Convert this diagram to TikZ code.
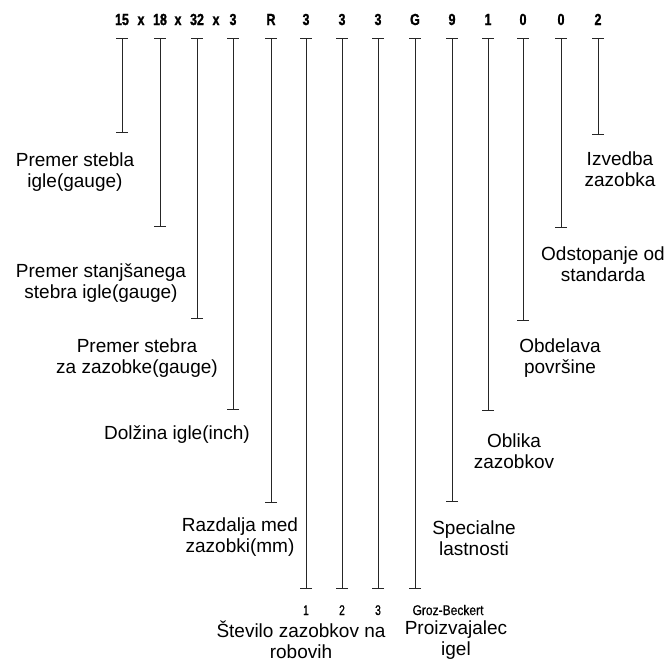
\documentclass[tikz,border=0pt]{standalone}
\usepackage{fontspec}
\setmainfont{Liberation Sans}
\newfontfamily\codefontb[FakeStretch=0.78,FakeBold=1.2]{Liberation Sans Bold}
\newfontfamily\codefontr[FakeStretch=0.74,FakeBold=0.8]{Liberation Sans}
\newfontfamily\codefontw[FakeStretch=0.86,FakeBold=0.5]{Liberation Sans}
\usetikzlibrary{arrows.meta}
\begin{document}
\begin{tikzpicture}[x=1pt,y=-1pt,
  code/.style={font=\codefontb\fontsize{16}{18}\selectfont, inner sep=0pt, anchor=base},
  small/.style={font=\codefontr\fontsize{14}{16}\selectfont, inner sep=0pt, anchor=base},
  lbl/.style={font=\fontsize{19}{21.5}\selectfont, align=center, inner sep=0pt},
  lead/.style={line width=0.8pt, draw=black!85, {Bar[width=12pt,line width=0.8pt]}-{Bar[width=12pt,line width=0.8pt]}}]
\useasboundingbox (0,0) rectangle (667,662);

% code characters
\node[code] (c1) at (122,25) {15};
\node[code] (xa) at (141,25) {x};
\node[code] (c2) at (160,25) {18};
\node[code] (xb) at (178,25) {x};
\node[code] (c3) at (197,25) {32};
\node[code] (xc) at (216,25) {x};
\node[code] (c4) at (233,25) {3};
\node[code] (c5) at (271,25) {R};
\node[code] (c6) at (306,25) {3};
\node[code] (c7) at (342,25) {3};
\node[code] (c8) at (378,25) {3};
\node[code] (c9) at (415,25) {G};
\node[code] (c10) at (452,25) {9};
\node[code] (c11) at (488,25) {1};
\node[code] (c12) at (523,25) {0};
\node[code] (c13) at (561,25) {0};
\node[code] (c14) at (598,25) {2};

% top ends of the leaders
\foreach \i in {1,...,14} {\coordinate (t\i) at ([yshift=-13pt]c\i.base);}
% bottom ends
\coordinate (b1) at (c1 |- 0,133);
\coordinate (b2) at (c2 |- 0,227);
\coordinate (b3) at (c3 |- 0,319);
\coordinate (b4) at (c4 |- 0,410);
\coordinate (b5) at (c5 |- 0,503);
\coordinate (b6) at (c6 |- 0,589);
\coordinate (b7) at (c7 |- 0,589);
\coordinate (b8) at (c8 |- 0,589);
\coordinate (b9) at (c9 |- 0,589);
\coordinate (b10) at (c10 |- 0,502);
\coordinate (b11) at (c11 |- 0,411);
\coordinate (b12) at (c12 |- 0,321);
\coordinate (b13) at (c13 |- 0,228);
\coordinate (b14) at (c14 |- 0,135);

\foreach \i in {1,...,14} {\draw[lead] (t\i) -- (b\i);}

% labels
\node[lbl] (l1) at (75,172) {Premer stebla\\igle(gauge)};
\node[lbl] (l2) at (101,283) {Premer stanjšanega\\stebra igle(gauge)};
\node[lbl] (l3) at (137,358) {Premer stebra\\za zazobke(gauge)};
\node[lbl] (l4) at (177,435) {Dolžina igle(inch)};
\node[lbl] (l5) at (240,537) {Razdalja med\\zazobki(mm)};
\node[lbl] (l6) at (301,640) {Število zazobkov na\\robovih};
\node[lbl] (l7) at (456,640) {Proizvajalec\\igel};
\node[lbl] (l8) at (474,538) {Specialne\\lastnosti};
\node[lbl] (l9) at (514,451) {Oblika\\zazobkov};
\node[lbl] (l10) at (560,358) {Obdelava\\površine};
\node[lbl] (l11) at (603,264) {Odstopanje od\\standarda};
\node[lbl] (l12) at (620,169) {Izvedba\\zazobka};

% small sub-labels
\node[small] (n1) at (306,615) {1};
\node[small] (n2) at (342,615) {2};
\node[small] (n3) at (378,615) {3};
\node[small, font=\codefontw\fontsize{14}{16}\selectfont] (gb) at (448,615) {Groz-Beckert};
\end{tikzpicture}
\end{document}
